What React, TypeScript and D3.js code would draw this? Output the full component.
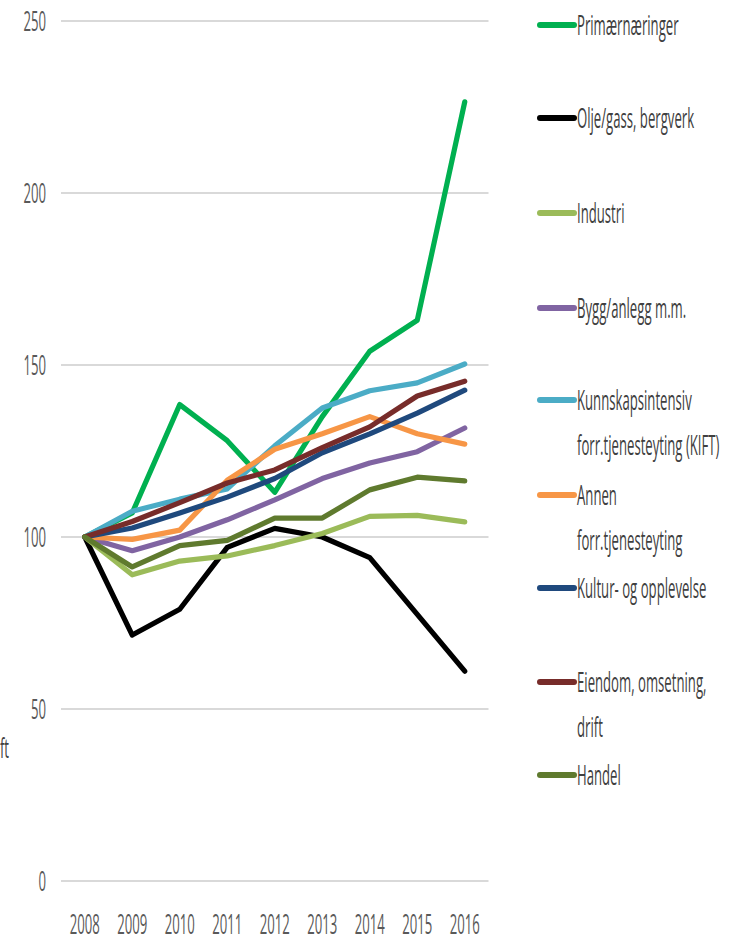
import React from "react";
import * as d3 from "d3";

const years = ["2008", "2009", "2010", "2011", "2012", "2013", "2014", "2015", "2016"];
const yTicks = [0, 50, 100, 150, 200, 250];

const primaer = [100, 107, 138.5, 128, 113, 135, 154, 163, 226.5];
const olje = [100, 71.5, 79, 97, 102.5, 100, 94, 77.5, 61];
const industri = [100, 89, 93, 94.5, 97.5, 101, 106, 106.3, 104.4];
const bygg = [100, 96, 100, 105, 110.8, 117, 121.5, 124.8, 131.7];
const kift = [100, 107.5, 111, 114, 126.5, 137.5, 142.5, 144.8, 150.3];
const annen = [100, 99.3, 102, 116.5, 125.5, 130, 135, 130, 127];
const kultur = [100, 102.6, 107, 111.6, 117, 124.5, 130, 136, 142.7];
const eiendom = [100, 104.5, 110, 115.7, 119.5, 126, 132, 141, 145.3];
const handel = [100, 91.3, 97.5, 99, 105.5, 105.5, 113.7, 117.4, 116.3];

const seriesNames = [
  ["Primærnæringer"],
  ["Olje/gass, bergverk"],
  ["Industri"],
  ["Bygg/anlegg m.m."],
  ["Kunnskapsintensiv", "forr.tjenesteyting (KIFT)"],
  ["Annen", "forr.tjenesteyting"],
  ["Kultur- og opplevelse"],
  ["Eiendom, omsetning,", "drift"],
  ["Handel"],
];
const seriesValues = [primaer, olje, industri, bygg, kift, annen, kultur, eiendom, handel];
const seriesColors = ["#00b050", "#000000", "#9bbb59", "#8064a2", "#4bacc6", "#f79646", "#1f497d", "#772c2a", "#5f7a2e"];
const legendY = [25, 118, 213, 308, 400, 495, 588, 682, 775];

const FONT = "'Open Sans', sans-serif";
const FS = 28;
const SX = 0.47;

function SqText({ x, y, anchor, children, fill }: any) {
  return (
    <text
      transform={`translate(${x},${y}) scale(${SX},1)`}
      textAnchor={anchor || "start"}
      fontFamily={FONT}
      fontSize={FS}
      fill={fill || "#595959"}
    >
      {children}
    </text>
  );
}

export default function App() {
  const x = d3.scaleBand<string>().domain(years).range([61, 488.5]);
  const y = d3.scaleLinear().domain([0, 250]).range([881, 21]);
  const line = d3
    .line<number>()
    .x((_, i) => (x(years[i]) as number) + x.bandwidth() / 2)
    .y((v) => y(v));

  return (
    <svg width={748} height={942} style={{ position: "absolute", left: 0, top: 0 }}>
      <rect width={748} height={942} fill="#ffffff" />
      {yTicks.map((t) => (
        <g key={t}>
          <line x1={61} x2={488.5} y1={y(t)} y2={y(t)} stroke="#d9d9d9" strokeWidth={2} />
          <SqText x={46} y={y(t) + 10} anchor="end">
            {t}
          </SqText>
        </g>
      ))}
      {years.map((yr) => (
        <SqText key={yr} x={(x(yr) as number) + x.bandwidth() / 2} y={934} anchor="middle">
          {yr}
        </SqText>
      ))}
      {seriesValues.map((vals, i) => (
        <path
          key={i}
          d={line(vals) || ""}
          fill="none"
          stroke={seriesColors[i]}
          strokeWidth={5.2}
          strokeLinejoin="round"
          strokeLinecap="round"
        />
      ))}
      {seriesNames.map((lines, i) => (
        <g key={i}>
          <line
            x1={540}
            x2={574}
            y1={legendY[i]}
            y2={legendY[i]}
            stroke={seriesColors[i]}
            strokeWidth={6}
            strokeLinecap="round"
          />
          {lines.map((l, j) => (
            <SqText key={j} x={577} y={legendY[i] + 10 + j * 45} fill="#404040">
              {l}
            </SqText>
          ))}
        </g>
      ))}
      <SqText x={9} y={758} anchor="end" fill="#404040">
        ft
      </SqText>
    </svg>
  );
}
